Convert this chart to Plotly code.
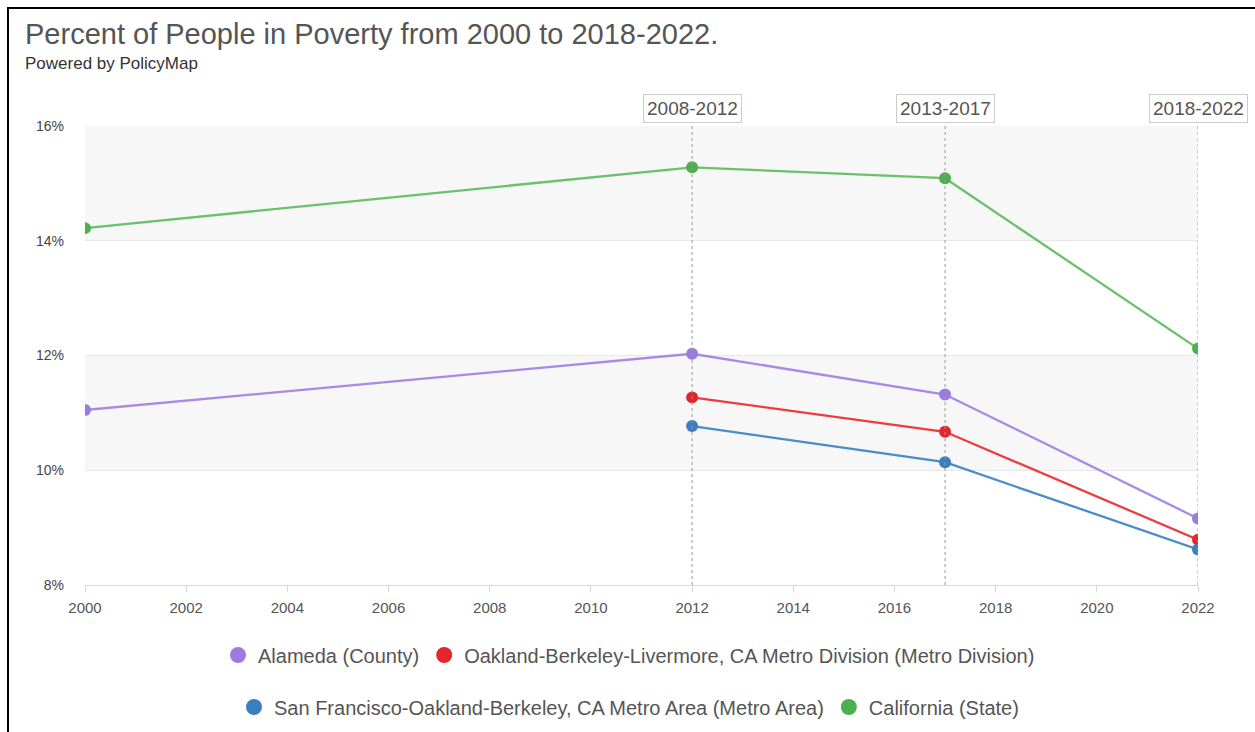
import plotly.graph_objects as go

# ---- data ----
years = [2000, 2012, 2017, 2022]
alameda = [11.05, 12.03, 11.32, 9.16]
oakland = [None, 11.27, 10.67, 8.79]
sf_metro = [None, 10.77, 10.14, 8.62]
california = [14.22, 15.28, 15.09, 12.12]

series_names = [
    "Alameda (County)",
    "Oakland-Berkeley-Livermore, CA Metro Division (Metro Division)",
    "San Francisco-Oakland-Berkeley, CA Metro Area (Metro Area)",
    "California (State)",
]
series_values = [alameda, oakland, sf_metro, california]
series_colors = ["#9B7BE0", "#E5252A", "#3A7FC1", "#4CAF50"]
line_colors = ["#A68AE6", "#EE3B3F", "#4A8BC8", "#6CC06C"]
legend_ids = ["legend", "legend", "legend2", "legend2"]

period_years = [2012, 2017, 2022]
period_labels = ["2008-2012", "2013-2017", "2018-2022"]

x_ticks = list(range(2000, 2023, 2))
y_ticks = [8, 10, 12, 14, 16]
y_tick_labels = [f"{v}%" for v in y_ticks]
bands = [(10, 12), (14, 16)]

FONT = "Liberation Sans, Arial, sans-serif"

# plot geometry (pixels)
W, H = 1255, 732
L, R, T, B = 85, 57, 126, 147
pw, ph = W - L - R, H - T - B


def px_x(p):
    return (p - L) / pw


def px_y(p):
    return (H - B - p) / ph


fig = go.Figure()

for name, vals, mc, lc in zip(series_names, series_values, series_colors, line_colors):
    fig.add_trace(go.Scatter(
        x=years, y=vals, mode="lines+markers", name=name,
        line=dict(color=lc, width=2.3),
        marker=dict(color=mc, size=12),
        showlegend=False, connectgaps=False,
        hovertemplate="%{y:.2f}%<extra>" + name + "</extra>",
    ))

for name, mc, lg in zip(series_names, series_colors, legend_ids):
    fig.add_trace(go.Scatter(
        x=[None], y=[None], mode="markers", name=name,
        marker=dict(color=mc, size=16), legend=lg, showlegend=True,
    ))

shapes = []
for lo, hi in bands:
    shapes.append(dict(type="rect", xref="x", yref="y", x0=2000, x1=2022, y0=lo, y1=hi,
                       fillcolor="#F7F7F7", line=dict(width=0), layer="below"))
for yr in period_years:
    shapes.append(dict(type="line", xref="x", yref="paper", x0=yr, x1=yr, y0=0, y1=1.01,
                       line=dict(color="#9A9A9A", width=1, dash="dot"), layer="above"))
# outer frame (top and left)
shapes.append(dict(type="line", xref="paper", yref="paper", x0=px_x(7), x1=px_x(W + 5),
                   y0=px_y(8), y1=px_y(8), line=dict(color="#000", width=2)))
shapes.append(dict(type="line", xref="paper", yref="paper", x0=px_x(8), x1=px_x(8),
                   y0=px_y(7), y1=px_y(H + 5), line=dict(color="#000", width=2)))

annotations = []
for yr, lab in zip(period_years, period_labels):
    annotations.append(dict(
        x=yr, xref="x", y=px_y(123), yref="paper", yanchor="bottom", xanchor="center",
        text=lab, showarrow=False, font=dict(family=FONT, size=19, color="#555"),
        bgcolor="#FFFFFF", bordercolor="#CCCCCC", borderwidth=1, borderpad=3,
    ))
annotations.append(dict(
    x=px_x(23), xref="paper", y=px_y(34), yref="paper", xanchor="left", yanchor="middle",
    text="Percent of People in Poverty from 2000 to 2018-2022.", showarrow=False,
    font=dict(family=FONT, size=29, color="#555")))
annotations.append(dict(
    x=px_x(23), xref="paper", y=px_y(64), yref="paper", xanchor="left", yanchor="middle",
    text="Powered by PolicyMap", showarrow=False,
    font=dict(family=FONT, size=17, color="#333")))

fig.update_layout(
    width=W, height=H,
    margin=dict(l=L, r=R, t=T, b=B, pad=0, autoexpand=False),
    paper_bgcolor="#FFFFFF", plot_bgcolor="#FFFFFF",
    font=dict(family=FONT, color="#444"),
    shapes=shapes, annotations=annotations,
    xaxis=dict(range=[2000, 2022], tickvals=x_ticks, ticktext=[str(v) for v in x_ticks],
               showgrid=False, zeroline=False, showline=True, linecolor="#D8D8D8", linewidth=1,
               ticks="outside", ticklen=6, tickcolor="#D8D8D8", ticklabelstandoff=3,
               tickfont=dict(family=FONT, size=15, color="#555")),
    yaxis=dict(range=[8, 16], tickvals=y_ticks, ticktext=y_tick_labels,
               showgrid=True, gridcolor="#E8E8E8", gridwidth=1, zeroline=False,
               showline=False, ticks="", ticklabelstandoff=20,
               tickfont=dict(family=FONT, size=14, color="#444")),
    legend=dict(orientation="h", x=px_x(629), xanchor="center", y=px_y(655), yanchor="middle",
                font=dict(family=FONT, size=20, color="#555"), itemwidth=30,
                bgcolor="rgba(0,0,0,0)"),
    legend2=dict(orientation="h", x=px_x(629), xanchor="center", y=px_y(707), yanchor="middle",
                 font=dict(family=FONT, size=20, color="#555"), itemwidth=30,
                 bgcolor="rgba(0,0,0,0)"),
    hovermode="closest",
)

fig.write_html("out.html")
